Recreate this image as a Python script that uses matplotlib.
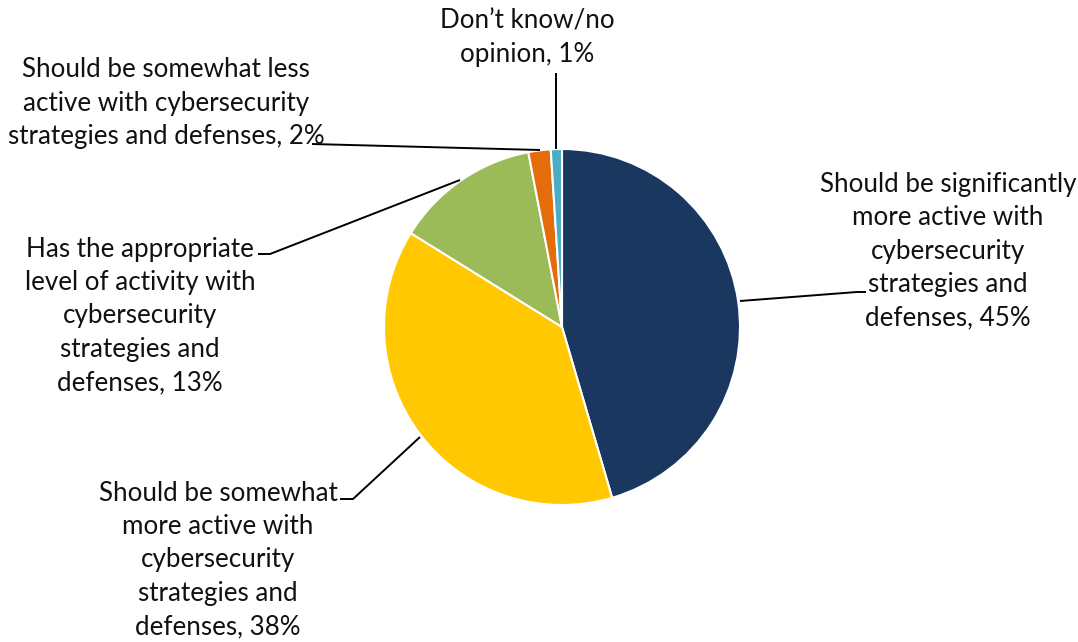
import matplotlib.pyplot as plt

# survey shares, clockwise from 12 o'clock
labels = ["Should be significantly\nmore active with\ncybersecurity\nstrategies and\ndefenses, 45%",
          "Should be somewhat\nmore active with\ncybersecurity\nstrategies and\ndefenses, 38%",
          "Has the appropriate\nlevel of activity with\ncybersecurity\nstrategies and\ndefenses, 13%",
          "Should be somewhat less\nactive with cybersecurity\nstrategies and defenses, 2%",
          "Don\u2019t know/no\nopinion, 1%"]
shares = [45, 38, 13, 2, 1]
colors = ["#1a3760", "#ffc800", "#9bbb59", "#e46c0a", "#4bacc6"]

# label anchor (text block centre) and leader path, in pixels from the top-left
label_pos = [(948, 251), (218, 560), (140, 316), (166, 103), (527, 38)]
leaders = [[(740, 301), (857, 292), (866, 292)],
           [(420, 437), (353, 499), (340, 499)],
           [(460, 180), (270, 254), (258, 254)],
           [(540, 150), (312, 144)],
           [(556, 149), (556, 73)]]

W, H = 1078, 642
plt.rcParams['font.family'] = ['Lato', 'DejaVu Sans']

fig = plt.figure(figsize=(W / 100, H / 100), dpi=100)
ax = fig.add_axes([0, 0, 1, 1])

ax.pie(shares, colors=colors, startangle=90, counterclock=False,
       center=(562, H - 327), radius=178, normalize=True,
       wedgeprops=dict(edgecolor='white', linewidth=1.5))

ax.set_xlim(0, W)
ax.set_ylim(0, H)
ax.set_aspect('equal')
ax.axis('off')

for path in leaders:
    xs = [p[0] for p in path]
    ys = [H - p[1] for p in path]
    ax.plot(xs, ys, color='black', linewidth=1.4, solid_capstyle='butt')

for text, (x, y) in zip(labels, label_pos):
    ax.text(x, H - y, text, ha='center', va='center', fontsize=18.7,
            linespacing=1.42, color='#111111')

fig.savefig("out.png", dpi=100)
